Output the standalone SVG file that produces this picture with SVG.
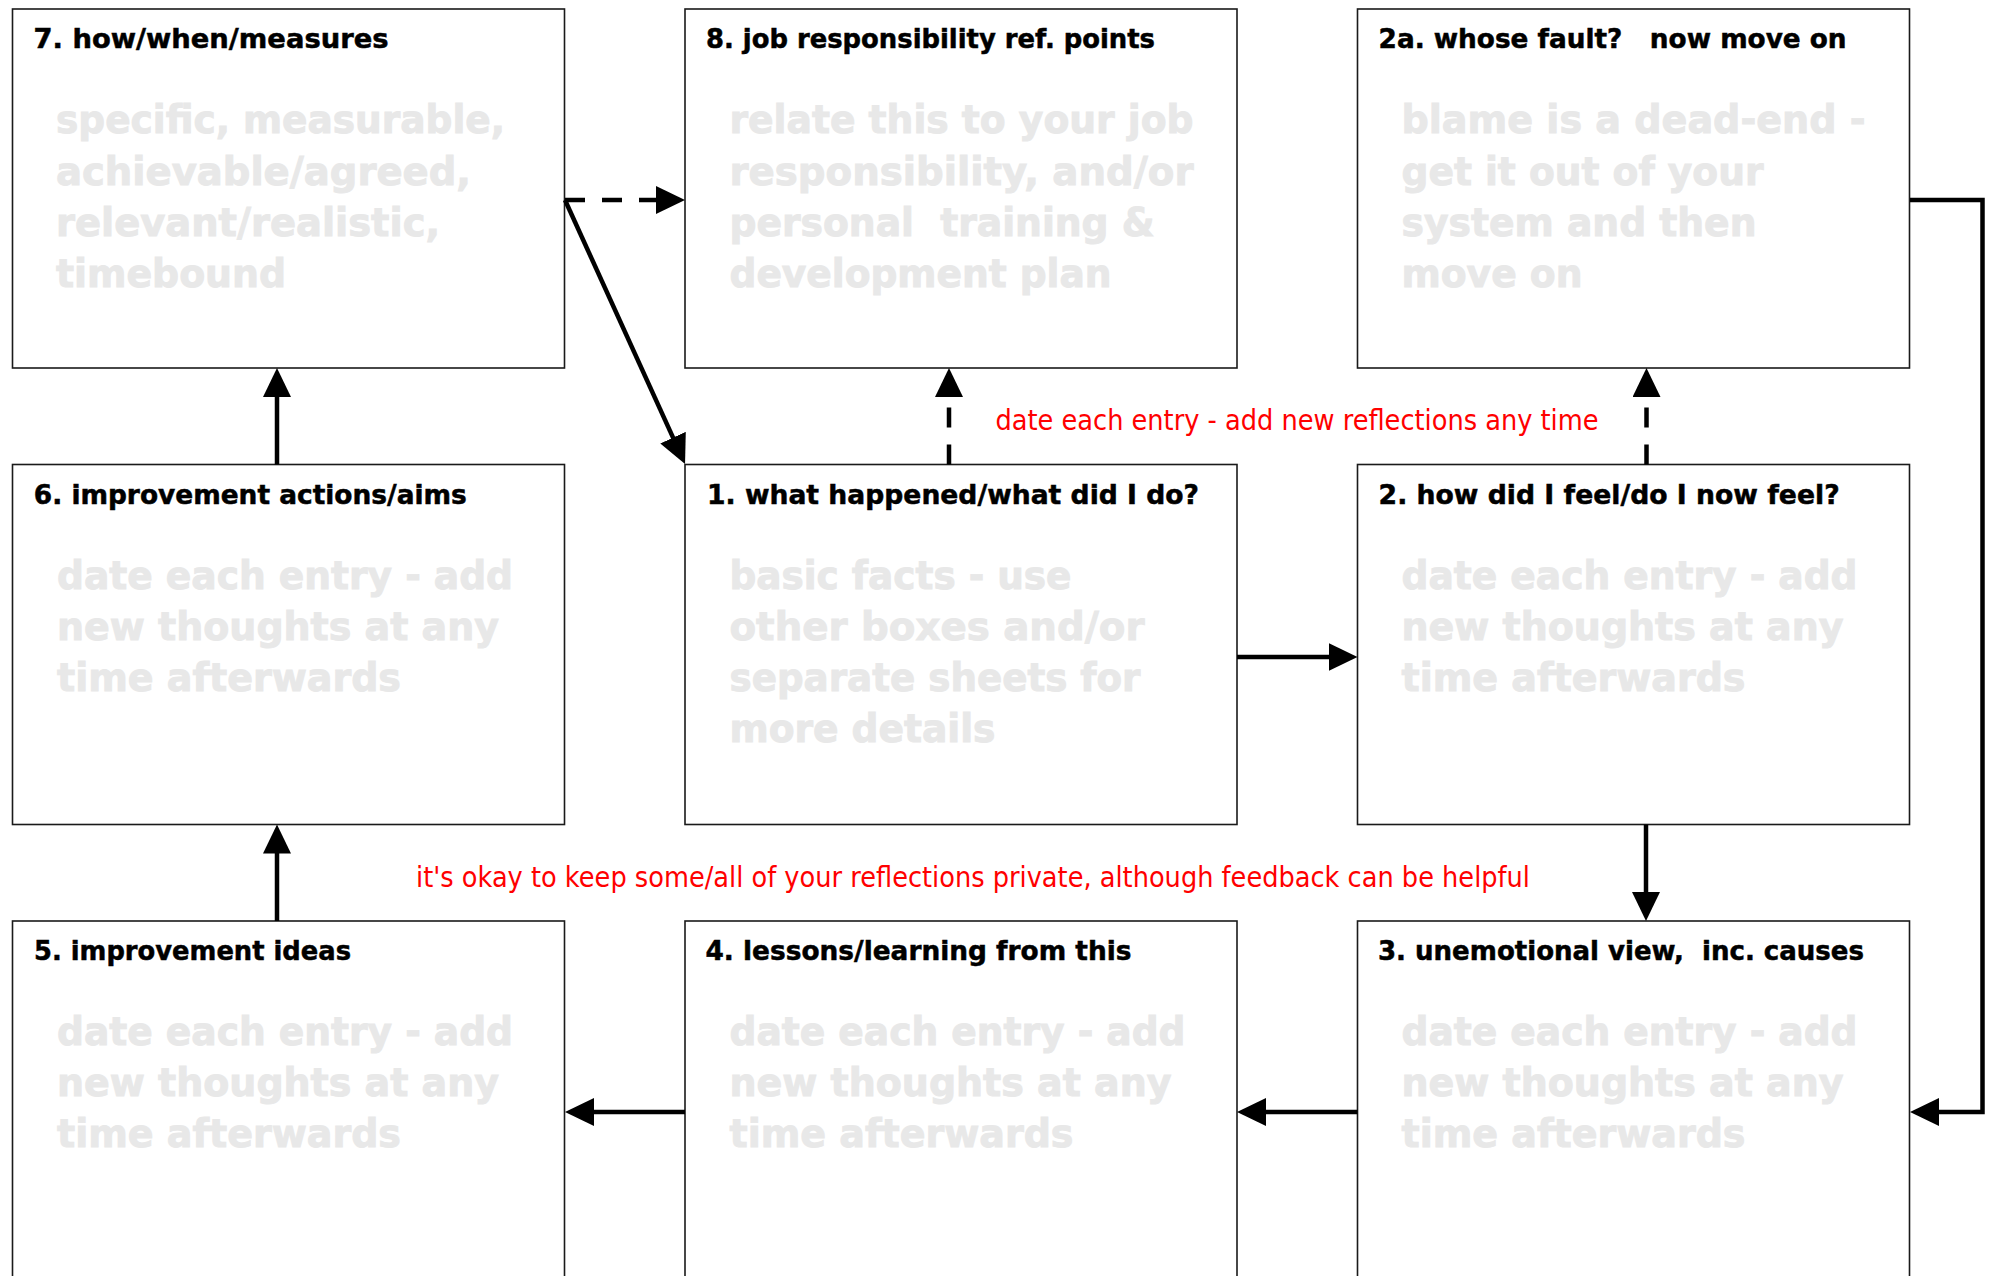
<svg xmlns="http://www.w3.org/2000/svg" width="1989" height="1276" viewBox="0 0 1989 1276">
<style>
.box{fill:#fff;stroke:#1a1a1a;stroke-width:1.6}
.title{font-family:"DejaVu Sans","Liberation Sans",sans-serif;font-weight:bold;font-size:26.5px;fill:#000;stroke:#000;stroke-width:0.5}
.body{font-family:"DejaVu Sans","Liberation Sans",sans-serif;font-weight:bold;font-size:38.5px;fill:#e8e8e8;stroke:#e8e8e8;stroke-width:0.9}
.note{font-family:"DejaVu Sans","Liberation Sans",sans-serif;font-size:27.5px;fill:#ff0000}
.conn{fill:none;stroke:#000;stroke-width:4.5;stroke-linejoin:miter}
.dash{stroke-dasharray:20 17}
</style>
<defs>
<marker id="ah" markerUnits="userSpaceOnUse" viewBox="0 0 29 28" refX="19" refY="14" markerWidth="29" markerHeight="28" orient="auto">
<path d="M0,0 L29,14 L0,28 Z" fill="#000"/>
</marker>
</defs>
<rect width="1989" height="1276" fill="#fff"/>

<g id="node7">
<rect class="box" x="12.5" y="9" width="552" height="359"/>
<text class="title" x="33.5" y="47.5" textLength="355" lengthAdjust="spacingAndGlyphs">7. how/when/measures</text>
<text class="body" x="56" y="133" textLength="449" lengthAdjust="spacingAndGlyphs">specific, measurable,</text>
<text class="body" x="56" y="184.5" textLength="415" lengthAdjust="spacingAndGlyphs">achievable/agreed,</text>
<text class="body" x="56" y="236" textLength="384" lengthAdjust="spacingAndGlyphs">relevant/realistic,</text>
<text class="body" x="56" y="287" textLength="230" lengthAdjust="spacingAndGlyphs">timebound</text>
</g>

<g id="node8">
<rect class="box" x="685" y="9" width="552" height="359"/>
<text class="title" x="706" y="47.5" textLength="449" lengthAdjust="spacingAndGlyphs">8. job responsibility ref. points</text>
<text class="body" x="729.5" y="133" textLength="464" lengthAdjust="spacingAndGlyphs">relate this to your job</text>
<text class="body" x="729.5" y="184.5" textLength="464" lengthAdjust="spacingAndGlyphs">responsibility, and/or</text>
<text class="body" x="729.5" y="236" textLength="425" lengthAdjust="spacingAndGlyphs" xml:space="preserve">personal  training &amp;</text>
<text class="body" x="729.5" y="287" textLength="382" lengthAdjust="spacingAndGlyphs">development plan</text>
</g>

<g id="node2a">
<rect class="box" x="1357.5" y="9" width="552" height="359"/>
<text class="title" x="1378.6" y="47.5" textLength="468" lengthAdjust="spacingAndGlyphs" xml:space="preserve">2a. whose fault?   now move on</text>
<text class="body" x="1401.5" y="133" textLength="464" lengthAdjust="spacingAndGlyphs">blame is a dead-end -</text>
<text class="body" x="1401.5" y="184.5" textLength="362" lengthAdjust="spacingAndGlyphs">get it out of your</text>
<text class="body" x="1401.5" y="236" textLength="355" lengthAdjust="spacingAndGlyphs">system and then</text>
<text class="body" x="1401.5" y="287" textLength="181" lengthAdjust="spacingAndGlyphs">move on</text>
</g>

<g id="node6">
<rect class="box" x="12.5" y="464.5" width="552" height="360"/>
<text class="title" x="33.8" y="504" textLength="433" lengthAdjust="spacingAndGlyphs">6. improvement actions/aims</text>
<text class="body" x="57" y="588.5" textLength="456" lengthAdjust="spacingAndGlyphs">date each entry - add</text>
<text class="body" x="57" y="640" textLength="442" lengthAdjust="spacingAndGlyphs">new thoughts at any</text>
<text class="body" x="57" y="691" textLength="344" lengthAdjust="spacingAndGlyphs">time afterwards</text>
</g>

<g id="node1">
<rect class="box" x="685" y="464.5" width="552" height="360"/>
<text class="title" x="707" y="504" textLength="492" lengthAdjust="spacingAndGlyphs">1. what happened/what did I do?</text>
<text class="body" x="729.5" y="588.5" textLength="342" lengthAdjust="spacingAndGlyphs">basic facts - use</text>
<text class="body" x="729.5" y="640" textLength="415" lengthAdjust="spacingAndGlyphs">other boxes and/or</text>
<text class="body" x="729.5" y="691" textLength="411" lengthAdjust="spacingAndGlyphs">separate sheets for</text>
<text class="body" x="729.5" y="742" textLength="266" lengthAdjust="spacingAndGlyphs">more details</text>
</g>

<g id="node2">
<rect class="box" x="1357.5" y="464.5" width="552" height="360"/>
<text class="title" x="1378.6" y="504" textLength="461" lengthAdjust="spacingAndGlyphs">2. how did I feel/do I now feel?</text>
<text class="body" x="1401.5" y="588.5" textLength="456" lengthAdjust="spacingAndGlyphs">date each entry - add</text>
<text class="body" x="1401.5" y="640" textLength="442" lengthAdjust="spacingAndGlyphs">new thoughts at any</text>
<text class="body" x="1401.5" y="691" textLength="344" lengthAdjust="spacingAndGlyphs">time afterwards</text>
</g>

<g id="node5">
<rect class="box" x="12.5" y="921" width="552" height="362"/>
<text class="title" x="34" y="960" textLength="317" lengthAdjust="spacingAndGlyphs">5. improvement ideas</text>
<text class="body" x="57" y="1044.5" textLength="456" lengthAdjust="spacingAndGlyphs">date each entry - add</text>
<text class="body" x="57" y="1095.5" textLength="442" lengthAdjust="spacingAndGlyphs">new thoughts at any</text>
<text class="body" x="57" y="1146.5" textLength="344" lengthAdjust="spacingAndGlyphs">time afterwards</text>
</g>

<g id="node4">
<rect class="box" x="685" y="921" width="552" height="362"/>
<text class="title" x="705.5" y="960" textLength="426" lengthAdjust="spacingAndGlyphs">4. lessons/learning from this</text>
<text class="body" x="729.5" y="1044.5" textLength="456" lengthAdjust="spacingAndGlyphs">date each entry - add</text>
<text class="body" x="729.5" y="1095.5" textLength="442" lengthAdjust="spacingAndGlyphs">new thoughts at any</text>
<text class="body" x="729.5" y="1146.5" textLength="344" lengthAdjust="spacingAndGlyphs">time afterwards</text>
</g>

<g id="node3">
<rect class="box" x="1357.5" y="921" width="552" height="362"/>
<text class="title" x="1378" y="960" textLength="486" lengthAdjust="spacingAndGlyphs" xml:space="preserve">3. unemotional view,  inc. causes</text>
<text class="body" x="1401.5" y="1044.5" textLength="456" lengthAdjust="spacingAndGlyphs">date each entry - add</text>
<text class="body" x="1401.5" y="1095.5" textLength="442" lengthAdjust="spacingAndGlyphs">new thoughts at any</text>
<text class="body" x="1401.5" y="1146.5" textLength="344" lengthAdjust="spacingAndGlyphs">time afterwards</text>
</g>

<g id="connectors">
<line class="conn dash" x1="565" y1="200" x2="675" y2="200" marker-end="url(#ah)"/>
<line class="conn" x1="565" y1="200" x2="680.9" y2="454.9" marker-end="url(#ah)"/>
<line class="conn dash" x1="949" y1="464.5" x2="949" y2="378" marker-end="url(#ah)"/>
<line class="conn dash" x1="1646.5" y1="464.5" x2="1646.5" y2="378" marker-end="url(#ah)"/>
<line class="conn" x1="1237" y1="657" x2="1347.5" y2="657" marker-end="url(#ah)"/>
<line class="conn" x1="1646" y1="824.5" x2="1646" y2="911" marker-end="url(#ah)"/>
<polyline class="conn" points="1910,200 1982.5,200 1982.5,1112 1920,1112" marker-end="url(#ah)"/>
<line class="conn" x1="1357.5" y1="1112" x2="1247" y2="1112" marker-end="url(#ah)"/>
<line class="conn" x1="685" y1="1112" x2="575" y2="1112" marker-end="url(#ah)"/>
<line class="conn" x1="277" y1="921" x2="277" y2="834.5" marker-end="url(#ah)"/>
<line class="conn" x1="277" y1="464.5" x2="277" y2="378" marker-end="url(#ah)"/>
</g>

<g id="notes">
<text class="note" x="995.5" y="430" textLength="603" lengthAdjust="spacingAndGlyphs">date each entry - add new reflections any time</text>
<text class="note" x="416" y="886.5" textLength="1114" lengthAdjust="spacingAndGlyphs">it's okay to keep some/all of your reflections private, although feedback can be helpful</text>
</g>
</svg>
